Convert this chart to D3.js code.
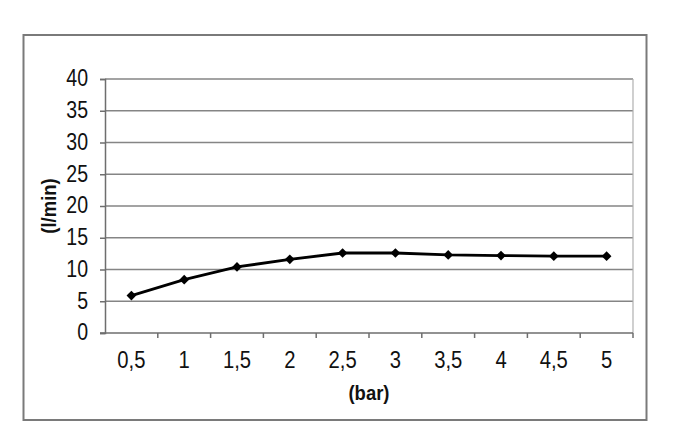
<!DOCTYPE html>
<html><head><meta charset="utf-8">
<script src="https://cdn.jsdelivr.net/npm/d3@7"></script>
<style>
html,body{margin:0;padding:0;background:#fff;}
svg{display:block;}
text{font-family:"Liberation Sans",Arial,sans-serif;fill:#111;}
</style></head>
<body>
<svg id="c" width="690" height="447"></svg>
<script>
const categories = ["0,5","1","1,5","2","2,5","3","3,5","4","4,5","5"];
const flowValues = [5.9, 8.4, 10.4, 11.6, 12.6, 12.6, 12.3, 12.2, 12.1, 12.1];
const yTicks = [0,5,10,15,20,25,30,35,40];
const xTitle = "(bar)";
const yTitle = "(l/min)";

(function(){
const svg = d3.select("#c");
const pL = 105, pR = 633, pT = 79, pB = 333;
const SX = 0.85;

// outer frame
svg.append("rect").attr("x",23.5).attr("y",35).attr("width",623).attr("height",385)
  .attr("fill","#fff").attr("stroke","#7a7a7a").attr("stroke-width",2);

const x = d3.scaleBand().domain(categories).range([pL,pR]).paddingInner(0).paddingOuter(0);
const y = d3.scaleLinear().domain([0,40]).range([pB,pT]);

// gridlines
svg.append("g").selectAll("line").data(yTicks.filter(d=>d>0)).join("line")
  .attr("x1",pL).attr("x2",pR).attr("y1",d=>y(d)).attr("y2",d=>y(d))
  .attr("stroke","#858585").attr("stroke-width",1.3);
svg.append("line").attr("x1",pR).attr("x2",pR).attr("y1",pT).attr("y2",pB)
  .attr("stroke","#b0b0b0").attr("stroke-width",1.2);

// y axis
const yAxis = d3.axisLeft(y).tickValues(yTicks).tickSize(5).tickPadding(14);
const gy = svg.append("g").attr("transform",`translate(${pL},0)`).call(yAxis);
gy.select(".domain").attr("stroke","#6e6e6e").attr("stroke-width",1.5);
gy.selectAll(".tick line").attr("stroke","#6e6e6e").attr("stroke-width",1.5);
gy.selectAll("text").attr("font-size",23).attr("fill","#111")
  .attr("font-family",'"Liberation Sans",Arial,sans-serif')
  .attr("x",-17/SX).attr("dy","0.3em").attr("transform",`scale(${SX},1)`);

// x axis
const xAxis = d3.axisBottom(x).tickSize(0).tickPadding(19);
const gx = svg.append("g").attr("transform",`translate(0,${pB})`).call(xAxis);
gx.select(".domain").remove();
svg.append("line").attr("x1",pL-5).attr("x2",pR).attr("y1",pB).attr("y2",pB)
  .attr("stroke","#6e6e6e").attr("stroke-width",1.5);
const edges = categories.map(c=>x(c)).concat([pR]);
svg.append("g").selectAll("line").data(edges.slice(1)).join("line")
  .attr("x1",d=>d).attr("x2",d=>d).attr("y1",pB).attr("y2",pB+5)
  .attr("stroke","#6e6e6e").attr("stroke-width",1.5);
gx.selectAll("text").attr("font-size",23).attr("fill","#111")
  .attr("font-family",'"Liberation Sans",Arial,sans-serif')
  .attr("transform",`scale(0.88,1)`);

// line
const cx = d => x(d) + x.bandwidth()/2;
const line = d3.line().x((d,i)=>cx(categories[i])).y(d=>y(d));
svg.append("path").datum(flowValues).attr("d",line).attr("fill","none")
  .attr("stroke","#000").attr("stroke-width",2.8);
svg.append("g").selectAll("path").data(flowValues).join("path")
  .attr("d",d3.symbol().type(d3.symbolDiamond2).size(60))
  .attr("transform",(d,i)=>`translate(${cx(categories[i])},${y(d)})`)
  .attr("fill","#000");

// titles
svg.append("text").attr("transform",`translate(${(pL+pR)/2},400) scale(0.88,1)`)
  .attr("text-anchor","middle")
  .attr("font-size",21).attr("font-weight","bold").text(xTitle);
svg.append("text").attr("transform",`translate(56,${(pT+pB)/2}) rotate(-90) scale(0.88,1)`)
  .attr("text-anchor","middle").attr("font-size",21).attr("font-weight","bold").text(yTitle);
})();
</script>
</body></html>
